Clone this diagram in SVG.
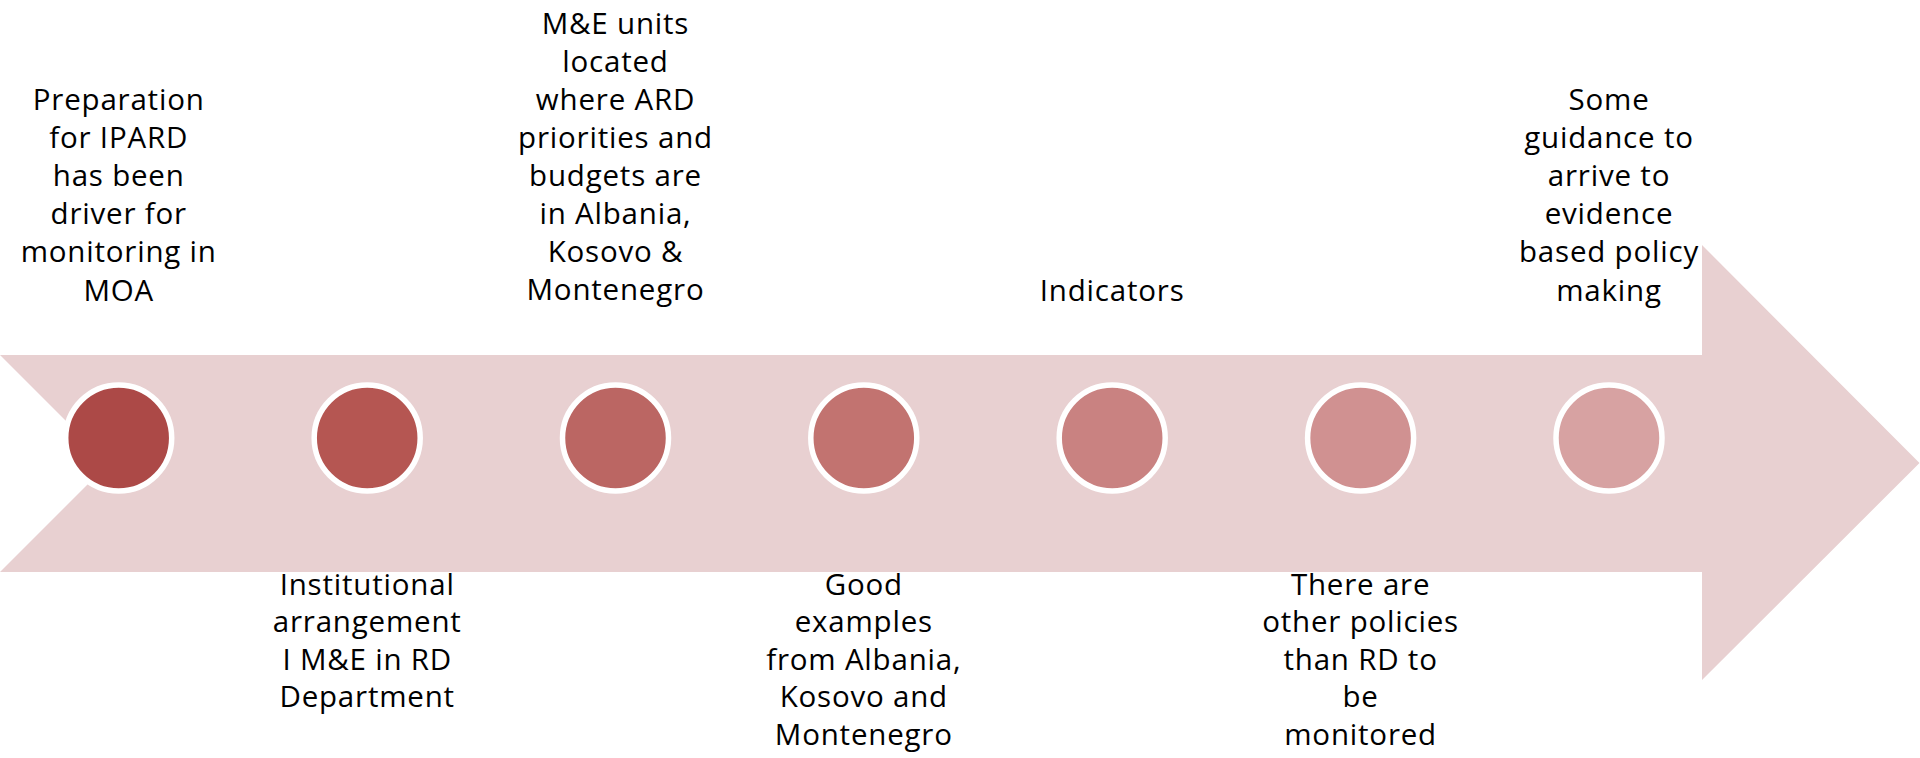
<svg xmlns="http://www.w3.org/2000/svg" width="1920" height="758" viewBox="0 0 1920 758">
<style>
.lbl{font-family:"Open Sans","Noto Sans",sans-serif;font-size:29.5px;fill:#000;text-anchor:middle;letter-spacing:0.8px}
.dot{stroke:#fff;stroke-width:5.5}
</style>
<rect width="1920" height="758" fill="#fff"/>
<g id="arrow">
<polygon points="0,355 1702,355 1702,245 1919.5,463 1702,680 1702,572 0,572 108.5,463.5" fill="#E8D0D1"/>
</g>
<g id="connectors"></g>
<g id="n1"><circle class="dot" cx="118.7" cy="438" r="53" fill="#AC4947"/>
<text class="lbl" x="118.7" y="110"><tspan x="118.7">Preparation</tspan><tspan x="118.7" dy="38.1">for IPARD</tspan><tspan x="118.7" dy="38.1">has been</tspan><tspan x="118.7" dy="38.1">driver for</tspan><tspan x="118.7" dy="38.1">monitoring in</tspan><tspan x="118.7" dy="38.1">MOA</tspan></text></g>
<g id="n2"><circle class="dot" cx="367.2" cy="438" r="53" fill="#B55652"/>
<text class="lbl" x="367.2" y="594.5"><tspan x="367.2">Institutional</tspan><tspan x="367.2" dy="37.6">arrangement</tspan><tspan x="367.2" dy="37.6">I M&amp;E in RD</tspan><tspan x="367.2" dy="37.6">Department</tspan></text></g>
<g id="n3"><circle class="dot" cx="615.5" cy="438" r="53" fill="#BB6663"/>
<text class="lbl" x="615.5" y="33.5"><tspan x="615.5">M&amp;E units</tspan><tspan x="615.5" dy="38.1">located</tspan><tspan x="615.5" dy="38.1">where ARD</tspan><tspan x="615.5" dy="38.1">priorities and</tspan><tspan x="615.5" dy="38.1">budgets are</tspan><tspan x="615.5" dy="38.1">in Albania,</tspan><tspan x="615.5" dy="38.1">Kosovo &amp;</tspan><tspan x="615.5" dy="38.1">Montenegro</tspan></text></g>
<g id="n4"><circle class="dot" cx="863.8" cy="438" r="53" fill="#C27370"/>
<text class="lbl" x="863.8" y="594.5"><tspan x="863.8">Good</tspan><tspan x="863.8" dy="37.6">examples</tspan><tspan x="863.8" dy="37.6">from Albania,</tspan><tspan x="863.8" dy="37.6">Kosovo and</tspan><tspan x="863.8" dy="37.6">Montenegro</tspan></text></g>
<g id="n5"><circle class="dot" cx="1112.2" cy="438" r="53" fill="#C98281"/>
<text class="lbl" x="1112.2" y="300.5">Indicators</text></g>
<g id="n6"><circle class="dot" cx="1360.6" cy="438" r="53" fill="#D09191"/>
<text class="lbl" x="1360.6" y="594.5"><tspan x="1360.6">There are</tspan><tspan x="1360.6" dy="37.6">other policies</tspan><tspan x="1360.6" dy="37.6">than RD to</tspan><tspan x="1360.6" dy="37.6">be</tspan><tspan x="1360.6" dy="37.6">monitored</tspan></text></g>
<g id="n7"><circle class="dot" cx="1609" cy="438" r="53" fill="#D7A2A2"/>
<text class="lbl" x="1609" y="110"><tspan x="1609">Some</tspan><tspan x="1609" dy="38.1">guidance to</tspan><tspan x="1609" dy="38.1">arrive to</tspan><tspan x="1609" dy="38.1">evidence</tspan><tspan x="1609" dy="38.1">based policy</tspan><tspan x="1609" dy="38.1">making</tspan></text></g>
</svg>
